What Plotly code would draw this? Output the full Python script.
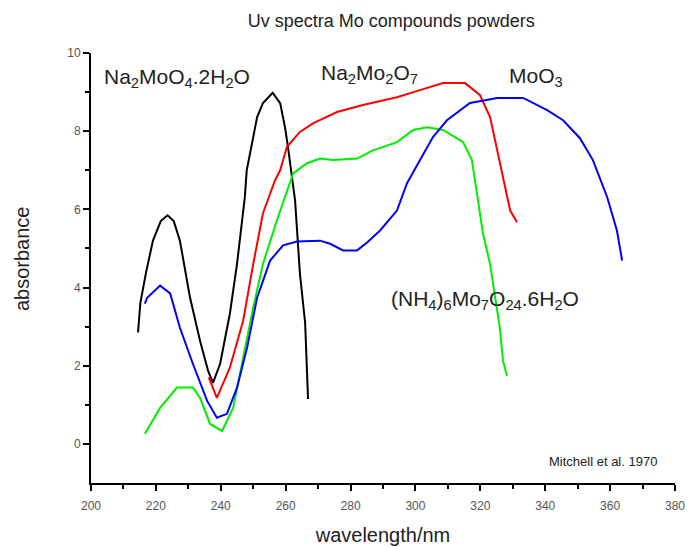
import plotly.graph_objects as go

# ---- data ----
na2moo4_x = [214.5, 215.2, 217.0, 219.1, 221.5, 223.6, 225.5, 227.4, 230.5, 233.6, 236.1, 237.6,
             239.8, 242.8, 245.0, 247.4, 248.0, 249.6, 251.2, 253.0, 256.0, 258.3, 259.8, 260.7,
             262.0, 262.9, 264.4, 266.0, 266.9]
na2moo4_y = [2.85, 3.6, 4.4, 5.2, 5.7, 5.85, 5.7, 5.2, 3.75, 2.64, 1.87, 1.56,
             2.05, 3.33, 4.6, 6.3, 7.0, 7.7, 8.36, 8.72, 8.98, 8.72, 8.1, 7.6,
             6.82, 6.23, 4.35, 3.1, 1.15]

na2mo2o7_x = [236.3, 238.8, 242.8, 246.9, 250.0, 253.0, 256.7, 258.3, 260.4, 264.4, 268.4, 275.8,
              283.8, 294.3, 301.4, 308.5, 315.3, 319.9, 323.0, 325.5, 327.0, 329.2, 331.3]
na2mo2o7_y = [1.7, 1.18, 1.95, 3.15, 4.6, 5.9, 6.74, 7.0, 7.6, 7.98, 8.2, 8.49,
              8.67, 8.87, 9.05, 9.23, 9.23, 8.92, 8.36, 7.43, 6.82, 5.97, 5.67]

nh4_x = [216.6, 221.3, 226.5, 231.4, 233.6, 236.7, 240.4, 243.8, 246.9, 250.0, 253.0, 257.3,
         262.3, 266.6, 270.6, 274.6, 282.0, 286.9, 294.3, 299.3, 303.6, 308.5, 314.7, 317.4,
         319.3, 320.8, 323.0, 324.5, 326.0, 327.0, 328.2]
nh4_y = [0.26, 0.92, 1.44, 1.44, 1.18, 0.51, 0.33, 0.92, 2.2, 3.49, 4.6, 5.72,
         6.92, 7.18, 7.3, 7.26, 7.3, 7.51, 7.72, 8.03, 8.1, 8.03, 7.72, 7.26,
         6.23, 5.38, 4.6, 3.74, 2.97, 2.13, 1.74]

moo3_x = [216.6, 217.3, 221.3, 224.4, 227.4, 231.4, 235.8, 238.8, 241.9, 245.0, 248.1, 251.2,
          255.2, 259.2, 263.5, 270.6, 273.7, 277.7, 282.0, 285.1, 289.1, 294.3, 297.4, 301.4,
          305.4, 309.7, 316.8, 325.2, 333.2, 340.6, 345.5, 350.7, 354.7, 359.1, 362.1, 363.7]
moo3_y = [3.59, 3.74, 4.05, 3.85, 2.97, 2.05, 1.1, 0.67, 0.77, 1.44, 2.46, 3.74,
          4.69, 5.08, 5.18, 5.2, 5.12, 4.95, 4.95, 5.15, 5.46, 5.97, 6.67, 7.26,
          7.85, 8.28, 8.72, 8.85, 8.85, 8.54, 8.28, 7.82, 7.26, 6.31, 5.46, 4.69]

series = [
    ("Na2MoO4.2H2O", na2moo4_x, na2moo4_y, "#000000"),
    ("Na2Mo2O7", na2mo2o7_x, na2mo2o7_y, "#ff0000"),
    ("(NH4)6Mo7O24.6H2O", nh4_x, nh4_y, "#00ee00"),
    ("MoO3", moo3_x, moo3_y, "#0000ff"),
]

x_ticks = [200, 220, 240, 260, 280, 300, 320, 340, 360, 380]
y_ticks = [0, 2, 4, 6, 8, 10]

FONT = "Liberation Sans, Arial, sans-serif"

fig = go.Figure()
for name, xs, ys, col in series:
    fig.add_trace(go.Scatter(x=xs, y=ys, mode="lines", name=name,
                             line=dict(color=col, width=2, shape="linear")))

labels = [
    ("Na<sub>2</sub>MoO<sub>4</sub>.2H<sub>2</sub>O", 203.4, 9.36, 21),
    ("Na<sub>2</sub>Mo<sub>2</sub>O<sub>7</sub>", 270.4, 9.46, 21),
    ("MoO<sub>3</sub>", 328.3, 9.38, 21),
    ("(NH<sub>4</sub>)<sub>6</sub>Mo<sub>7</sub>O<sub>24</sub>.6H<sub>2</sub>O", 292.0, 3.68, 21),
    ("Mitchell et al. 1970", 340.6, -0.44, 13),
]
for txt, lx, ly, fs in labels:
    fig.add_annotation(x=lx, y=ly, xref="x", yref="y", text=txt, showarrow=False,
                       xanchor="left", yanchor="middle",
                       font=dict(family=FONT, size=fs, color="#222"))

# y-axis title placed as a rotated annotation
fig.add_annotation(x=-0.118, y=0.521, xref="paper", yref="paper", text="absorbance",
                   textangle=-90, showarrow=False, xanchor="center", yanchor="middle",
                   font=dict(family=FONT, size=20, color="#222"))

fig.update_layout(
    width=690, height=547,
    margin=dict(l=91, r=15, t=53, b=64, autoexpand=False),
    paper_bgcolor="white", plot_bgcolor="white",
    showlegend=False,
    title=dict(text="Uv spectra Mo compounds powders", x=0.567, xanchor="center",
               y=0.962, yanchor="middle",
               font=dict(family=FONT, size=18, color="#222")),
    font=dict(family=FONT),
)
fig.update_xaxes(range=[200, 380], tickvals=x_ticks, ticks="outside", ticklen=6, tickwidth=2,
                 showline=True, linecolor="black", linewidth=2, showgrid=False, zeroline=False,
                 tickcolor="black", ticklabelstandoff=5, automargin=False,
                 tickfont=dict(family=FONT, size=12, color="#555"),
                 minor=dict(dtick=10, ticks="outside", ticklen=4, tickwidth=2, tickcolor="black"),
                 title=dict(text="wavelength/nm", standoff=16,
                            font=dict(family=FONT, size=20, color="#222")))
fig.update_yaxes(range=[-1, 10], tickvals=y_ticks, ticks="outside", ticklen=6, tickwidth=2,
                 showline=True, linecolor="black", linewidth=2, showgrid=False, zeroline=False,
                 tickcolor="black", automargin=False,
                 tickfont=dict(family=FONT, size=12, color="#555"),
                 minor=dict(tickvals=[1, 3, 5, 7, 9], ticks="outside", ticklen=4, tickwidth=2,
                            tickcolor="black"))

fig.write_html("out.html")
